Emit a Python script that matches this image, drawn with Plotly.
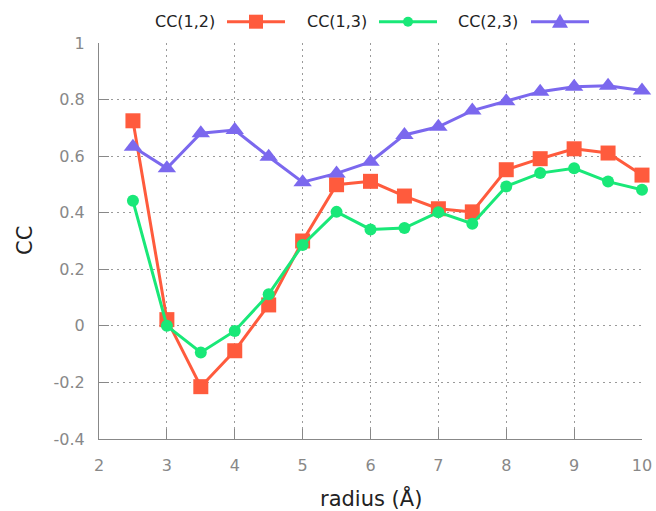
import plotly.graph_objects as go

radius = [2.5, 3, 3.5, 4, 4.5, 5, 5.5, 6, 6.5, 7, 7.5, 8, 8.5, 9, 9.5, 10]
cc12 = [0.725, 0.022, -0.215, -0.088, 0.074, 0.30, 0.499, 0.511, 0.459, 0.414, 0.403, 0.552, 0.591, 0.626, 0.611, 0.533]
cc13 = [0.442, 0.0, -0.094, -0.018, 0.112, 0.286, 0.403, 0.341, 0.346, 0.402, 0.361, 0.493, 0.540, 0.557, 0.510, 0.481]
cc23 = [0.633, 0.557, 0.681, 0.692, 0.598, 0.508, 0.539, 0.580, 0.675, 0.704, 0.761, 0.794, 0.828, 0.845, 0.849, 0.832]

y_ticks = [-0.4, -0.2, 0, 0.2, 0.4, 0.6, 0.8, 1]
y_ticktext = ["-0.4", "-0.2", "0", "0.2", "0.4", "0.6", "0.8", "1"]
x_ticks = [2, 3, 4, 5, 6, 7, 8, 9, 10]

names = ["CC(1,2)", "CC(1,3)", "CC(2,3)"]
colors = ["#FF5B3D", "#19E878", "#7B68EE"]
symbols = ["square", "circle", "triangle-up"]
sizes = [15, 12, 16]
series = [cc12, cc13, cc23]

W, H = 656, 511
L, R, T, B = 99, 14, 43, 72
FONT = "DejaVu Sans"


def px(x):
    return (x - L) / (W - L - R)


def py(y):
    return (H - B - y) / (H - B - T)


fig = go.Figure()
for name, ys, c, s, sz in zip(names, series, colors, symbols, sizes):
    fig.add_trace(go.Scatter(
        x=radius, y=ys, mode="lines+markers", name=name,
        line=dict(color=c, width=3),
        marker=dict(symbol=s, size=sz, color=c),
        showlegend=False, cliponaxis=False))

# custom legend (text then sample), gnuplot style
leg_y = 21.7
leg_text_right = [217, 369, 520]
leg_line = [(227, 285), (379, 437), (531, 589)]
shapes = []
for name, c, s, tr, (x0, x1) in zip(names, colors, symbols, leg_text_right, leg_line):
    fig.add_annotation(x=px(tr), y=py(leg_y), xref="paper", yref="paper", text=name,
                       showarrow=False, xanchor="right", yanchor="middle",
                       font=dict(family=FONT, size=16, color="#222"))
    shapes.append(dict(type="line", xref="paper", yref="paper",
                       x0=px(x0), x1=px(x1), y0=py(leg_y), y1=py(leg_y),
                       line=dict(color=c, width=3)))
    cx = (x0 + x1) / 2
    if s == "square":
        shapes.append(dict(type="rect", xref="paper", yref="paper",
                           x0=px(cx - 7), x1=px(cx + 7), y0=py(leg_y + 7), y1=py(leg_y - 7),
                           fillcolor=c, line=dict(width=0)))
    elif s == "circle":
        shapes.append(dict(type="circle", xref="paper", yref="paper",
                           x0=px(cx - 5), x1=px(cx + 5), y0=py(leg_y + 5), y1=py(leg_y - 5),
                           fillcolor=c, line=dict(width=0)))
    else:
        path = "M {:.5f} {:.5f} L {:.5f} {:.5f} L {:.5f} {:.5f} Z".format(
            px(cx - 8), py(leg_y + 6), px(cx + 8), py(leg_y + 6), px(cx), py(leg_y - 8))
        shapes.append(dict(type="path", xref="paper", yref="paper", path=path,
                           fillcolor=c, line=dict(width=0)))

# axis titles as annotations (fixed placement)
fig.add_annotation(x=px(370.5), y=py(498), xref="paper", yref="paper", text="radius (Å)",
                   showarrow=False, xanchor="center", yanchor="middle",
                   font=dict(family=FONT, size=21, color="#222"))
fig.add_annotation(x=px(25), y=py(241), xref="paper", yref="paper", text="CC",
                   showarrow=False, xanchor="center", yanchor="middle", textangle=-90,
                   font=dict(family=FONT, size=21, color="#222"))

axis_common = dict(
    showline=True, linecolor="#888", linewidth=1,
    showgrid=True, gridcolor="#9a9a9a", griddash="2px,4px", gridwidth=1,
    ticks="inside", ticklen=10, tickcolor="#888",
    tickfont=dict(family=FONT, size=16, color="#888"),
    zeroline=False, mirror=False, automargin=False,
)

fig.update_layout(
    width=W, height=H,
    margin=dict(l=L, r=R, t=T, b=B),
    paper_bgcolor="white", plot_bgcolor="white",
    xaxis=dict(range=[2, 10], tickvals=x_ticks,
               ticklabelstandoff=12, **axis_common),
    yaxis=dict(range=[-0.4, 1], tickvals=y_ticks, ticktext=y_ticktext,
               ticklabelstandoff=10, **axis_common),
    shapes=shapes,
    showlegend=False,
)

fig.write_html("out.html")
